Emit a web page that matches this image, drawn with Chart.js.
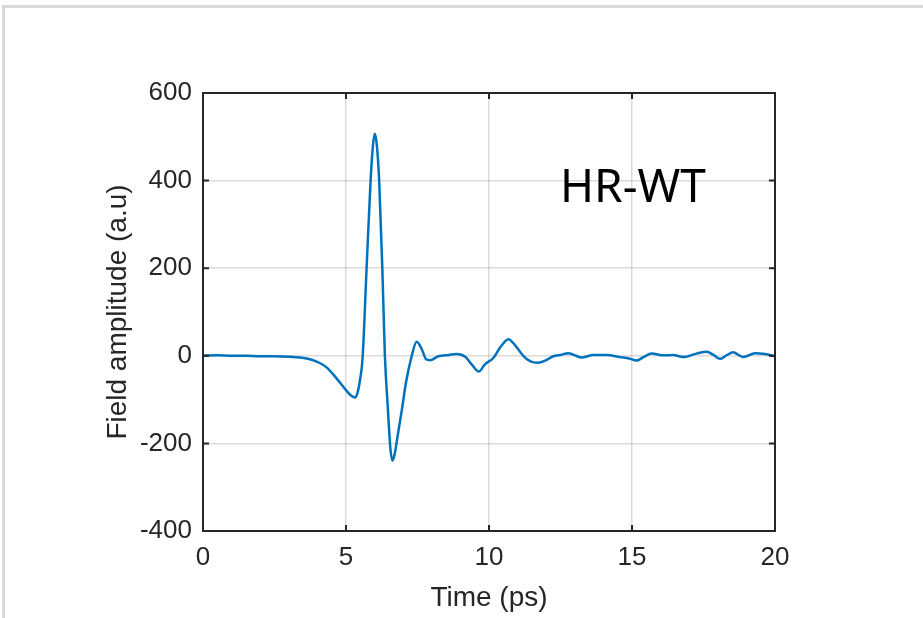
<!DOCTYPE html>
<html>
<head>
<meta charset="utf-8">
<script src="https://cdn.jsdelivr.net/npm/chart.js@4.4.1/dist/chart.umd.min.js"></script>
<style>
  body { margin: 0; background: #fff; }
  .frame { position: absolute; left: 2px; top: 5px; width: 930px; height: 620px;
           border-top: 3px solid #d9d9d9; border-left: 3px solid #d9d9d9; }
  canvas { position: absolute; left: 0; top: 0; }
</style>
</head>
<body>
<div class="frame"></div>
<canvas id="chart" width="923" height="618"></canvas>
<script>
// waveform
const timePs = [0, 0.5, 1, 1.5, 2, 2.5, 3, 3.4, 3.8, 4.1, 4.35, 4.56, 4.8, 5.02, 5.2, 5.31, 5.4, 5.49, 5.58,
  5.72, 5.86, 5.95, 6.01, 6.08, 6.16, 6.27, 6.36, 6.46, 6.55, 6.62, 6.7, 6.8, 6.97, 7.1, 7.3, 7.47, 7.65,
  7.8, 7.94, 8.23, 8.6, 8.87, 9.18, 9.4, 9.65, 9.85, 10.15, 10.4, 10.68, 10.9, 11.2, 11.45, 11.7, 12.0,
  12.25, 12.5, 12.77, 13.0, 13.24, 13.65, 14.12, 14.58, 14.9, 15.16, 15.4, 15.69, 16.1, 16.44, 16.79,
  17.26, 17.61, 17.85, 18.08, 18.3, 18.54, 18.75, 18.9, 19.3, 19.65, 20];
const amplitude = [0, 1, 0, 0, -1, -1, -2, -4, -9, -17, -28, -43, -62, -80, -92, -95, -85, -55, -5,
  200, 400, 485, 507, 480, 400, 200, 0, -116, -210, -239, -225, -185, -116, -60, 0, 32, 15,
  -8, -10, -1, 2, 4, -3, -20, -36, -20, -5, 20, 38, 25, 0, -13, -16, -10,
  -1, 2, 6, 1, -4, 2, 2, -3, -6, -11, -3, 5, 1, 2, -3,
  5, 9, 2, -7, 1, 8, 1, -3, 6, 4, -1];
const xTicks = [0, 5, 10, 15, 20];
const yTicks = [-400, -200, 0, 200, 400, 600];
const label = 'HR-WT';

const axisColor = '#262626';

// MATLAB style box with inward ticks, plus the text label
const boxPlugin = {
  id: 'box',
  afterDatasetsDraw(chart) {
    const { ctx, chartArea: a, scales } = chart;
    ctx.save();
    ctx.strokeStyle = axisColor;
    ctx.lineWidth = 2;
    ctx.strokeRect(a.left, a.top, a.right - a.left, a.bottom - a.top);
    ctx.beginPath();
    xTicks.forEach(v => {
      const x = scales.x.getPixelForValue(v);
      ctx.moveTo(x, a.bottom); ctx.lineTo(x, a.bottom - 6);
      ctx.moveTo(x, a.top); ctx.lineTo(x, a.top + 6);
    });
    yTicks.forEach(v => {
      const y = scales.y.getPixelForValue(v);
      ctx.moveTo(a.left, y); ctx.lineTo(a.left + 6, y);
      ctx.moveTo(a.right, y); ctx.lineTo(a.right - 6, y);
    });
    ctx.stroke();
    ctx.fillStyle = '#000';
    ctx.font = '46px "Noto Sans"';
    ctx.textBaseline = 'alphabetic';
    ctx.fillText(label, scales.x.getPixelForValue(12.48), scales.y.getPixelForValue(352));
    ctx.restore();
  }
};

new Chart(document.getElementById('chart'), {
  type: 'line',
  data: {
    datasets: [{
      data: timePs.map((t, i) => ({ x: t, y: amplitude[i] })),
      borderColor: '#0072BD',
      borderWidth: 2.5,
      pointRadius: 0,
      cubicInterpolationMode: 'monotone',
      fill: false
    }]
  },
  options: {
    responsive: false,
    animation: false,
    events: [],
    layout: { padding: { left: 0, top: 93, right: 148, bottom: 0 } },
    plugins: { legend: { display: false }, tooltip: { enabled: false } },
    scales: {
      x: {
        type: 'linear', min: 0, max: 20,
        afterBuildTicks: s => { s.ticks = xTicks.map(v => ({ value: v })); },
        afterFit: s => { s.height = 87; },
        grid: { color: 'rgba(0,0,0,0.14)', lineWidth: 1.5, drawTicks: false },
        border: { display: false },
        ticks: { color: axisColor, padding: 11, font: { family: '"Liberation Sans", Arial', size: 26 } },
        title: { display: true, text: 'Time (ps)', color: axisColor, padding: { top: 0, bottom: 3 },
                 font: { family: '"Liberation Sans", Arial', size: 28 } }
      },
      y: {
        min: -400, max: 600,
        afterBuildTicks: s => { s.ticks = yTicks.map(v => ({ value: v })); },
        afterFit: s => { s.width = 203; },
        grid: { color: 'rgba(0,0,0,0.14)', lineWidth: 1.5, drawTicks: false },
        border: { display: false },
        ticks: { color: axisColor, padding: 11, font: { family: '"Liberation Sans", Arial', size: 26 } },
        title: { display: true, text: 'Field amplitude (a.u)', color: axisColor, padding: { top: 101, bottom: 0 },
                 font: { family: '"Liberation Sans", Arial', size: 28 } }
      }
    }
  },
  plugins: [boxPlugin]
});
</script>
</body>
</html>
